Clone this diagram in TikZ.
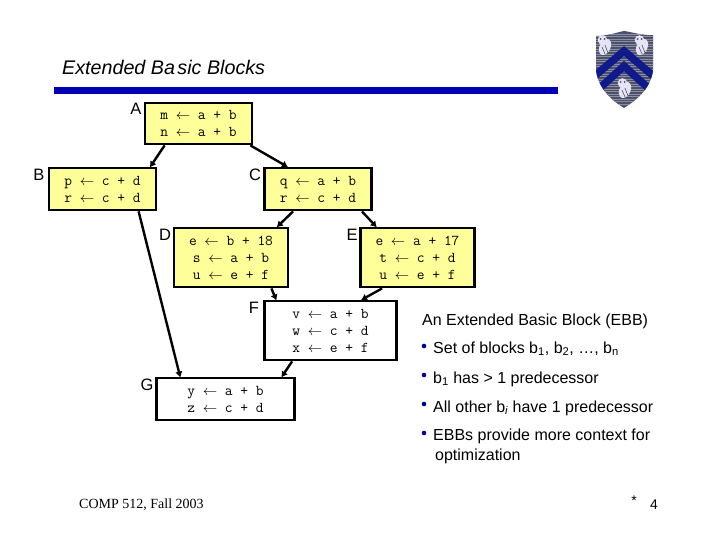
\documentclass[tikz,border=0pt]{standalone}
\usepackage{fontspec}
\setmainfont{Liberation Sans}
\newfontfamily\codefont{Latin Modern Mono}
\newfontfamily\footfont{Liberation Serif}
\usetikzlibrary{arrows.meta,calc}
\definecolor{blockyellow}{HTML}{FFFF99}
\definecolor{barblue}{HTML}{0000B4}
\definecolor{shieldgray}{HTML}{4C5068}
\definecolor{shieldline}{HTML}{8C8EA2}
\definecolor{shieldblue}{HTML}{0F1A8C}
\definecolor{owl}{HTML}{E4E4F4}
\tikzset{
  block/.style={draw=black,line width=2.8pt,inner sep=0pt,align=center,
    font=\codefont\fontsize{15}{17}\selectfont},
  yblock/.style={block,fill=blockyellow},
  wblock/.style={block,fill=white},
  lab/.style={font=\fontsize{16.5}{16}\selectfont,inner sep=0pt,text=black},
  edge/.style={line width=2.4pt,draw=black,-{Latex[length=6pt,width=7.5pt]},shorten >=-1pt},
  body/.style={anchor=base west,inner sep=0pt,font=\fontsize{16}{18}\selectfont},
  dot/.style={circle,fill=barblue!80!black,inner sep=0pt,minimum size=4.6pt},
}
\newcommand{\asg}{$\leftarrow$}
\begin{document}
\begin{tikzpicture}[x=1pt,y=-1pt]
\useasboundingbox (0,0) rectangle (720,540);
% title
\node[anchor=base west,inner sep=0pt,font=\fontsize{19.7}{22}\selectfont\itshape] (title) at (62,75) {Extended Ba\kern2.5pt sic Blocks};
\fill[barblue] (54,87) rectangle (558,94);
% crest
\begin{scope}
\path[clip] (596,36) .. controls (608,36) and (618,32) .. (624,31) .. controls (632,32) and (644,36) .. (653,35)
  -- (653,70) .. controls (651,88) and (637,100) .. (624,108) .. controls (611,100) and (598,88) .. (596,70) -- cycle;
\fill[shieldgray] (590,28) rectangle (660,110);
\foreach \yy in {34,36.5,...,106} {\draw[shieldline,line width=0.5pt] (590,\yy) -- (660,\yy);}
\draw[shieldblue,line width=7.5pt] (590,80) -- (624,51) -- (658,80);
\draw[shieldblue,line width=7.5pt] (590,97) -- (624,66) -- (658,97);
\end{scope}
\foreach \ox/\oy in {605/47,642/47,625/90} {
  \fill[owl,rotate around={-25:(\ox,\oy)}] (\ox,\oy) ellipse (5.5 and 8.5);
  \fill[owl] (\ox-2.5,\oy-7) circle (4.8);
  \fill[shieldgray] (\ox-4.5,\oy-8) circle (1) (\ox-0.5,\oy-8) circle (1);
  \draw[shieldgray,line width=0.6pt] (\ox,\oy-2) -- (\ox+3,\oy+6);
  \draw[shieldgray,line width=0.6pt] (\ox-3,\oy) -- (\ox,\oy+7);
}
% blocks
\node[yblock,minimum width=107pt,minimum height=41pt] (A) at (198.5,123.5) {m \asg{} a + b\\n \asg{} a + b};
\node[yblock,minimum width=107pt,minimum height=42pt] (B) at (102.5,189) {p \asg{} c + d\\r \asg{} c + d};
\node[yblock,minimum width=107pt,minimum height=42pt] (C) at (318,189) {q \asg{} a + b\\r \asg{} c + d};
\node[yblock,minimum width=114pt,minimum height=59pt] (D) at (231,257.5) {e \asg{} b + 18\\s \asg{} a + b\\u \asg{} e + f};
\node[yblock,minimum width=114pt,minimum height=59pt] (E) at (417.5,257.5) {e \asg{} a + 17\\t \asg{} c + d\\u \asg{} e + f};
\node[wblock,minimum width=132pt,minimum height=59pt] (F) at (330.5,330.5) {v \asg{} a + b\\w \asg{} c + d\\x \asg{} e + f};
\node[wblock,minimum width=138pt,minimum height=42pt] (G) at (225.5,399) {y \asg{} a + b\\z \asg{} c + d};
% block labels
\node[lab] (la) at (136,109) {A};
\node[lab] (lb) at (39,175) {B};
\node[lab] (lc) at (255,175) {C};
\node[lab] (ld) at (165,235) {D};
\node[lab] (le) at (352,235) {E};
\node[lab] (lf) at (254,308) {F};
\node[lab] (lg) at (147,385) {G};
% connectors
\draw[edge] ($(A.south west)+(21,0)$) -- ($(B.north east)+(-7,0)$);
\draw[edge] ($(A.south east)+(-3,0)$) -- ($(C.north west)+(24,0)$);
\draw[edge] ($(B.south west)+(91,0)$) -- ($(G.north west)+(25,0)$);
\draw[edge] ($(C.south west)+(30,0)$) -- ($(D.north east)+(-12,0)$);
\draw[edge] ($(C.south east)+(-11,0)$) -- ($(E.north west)+(17,0)$);
\draw[edge] ($(D.south east)+(-18,0)$) -- ($(F.north west)+(13,0)$);
\draw[edge] ($(E.south west)+(23,0)$) -- ($(F.north east)+(-36,0)$);
\draw[edge] ($(F.south west)+(29,0)$) -- ($(G.north east)+(-14,0)$);
% right text
\node[body] (t0) at (422,325) {An Extended Basic Block (EBB)};
\node[dot] (d1) at (424,346) {};
\node[body] (t1) at (433,353) {Set of blocks b\textsubscript{1}, b\textsubscript{2}, \ldots, b\textsubscript{n}};
\node[dot] (d2) at (424,375) {};
\node[body] (t2) at (433,383) {b\textsubscript{1} has > 1 predecessor};
\node[dot] (d3) at (424,404) {};
\node[body] (t3) at (433,412) {All other b\textsubscript{\itshape i} have 1 predecessor};
\node[dot] (d4) at (424,433) {};
\node[body] (t4) at (433,440) {EBBs provide more context for};
\node[body] (t5) at (435,460) {optimization};
% footer
\node[anchor=base west,inner sep=0pt,font=\footfont\fontsize{14}{16}\selectfont] (foot) at (79,508) {COMP 512, Fall 2003};
\node[anchor=base,inner sep=0pt,font=\fontsize{14}{16}\selectfont] (star) at (634,505) {*};
\node[anchor=base,inner sep=0pt,font=\fontsize{14}{16}\selectfont] (num) at (654,509) {4};
\end{tikzpicture}
\end{document}
